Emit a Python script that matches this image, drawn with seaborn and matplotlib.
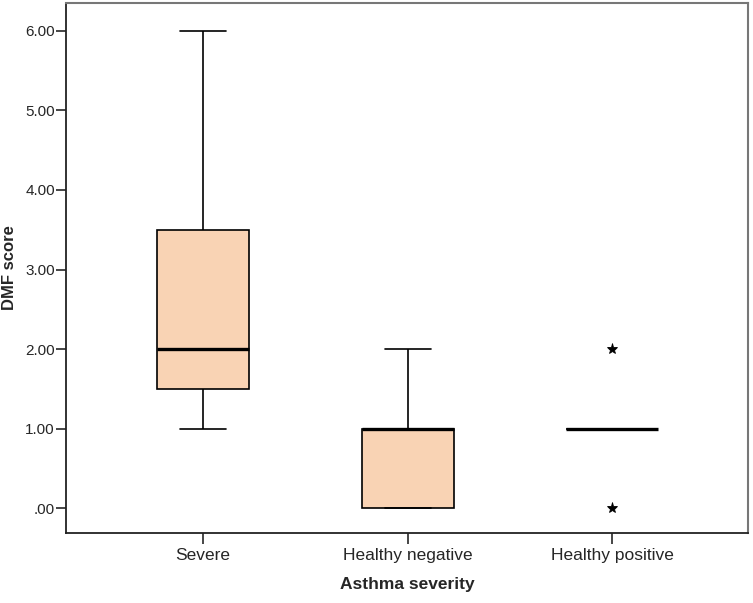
import pandas as pd
import matplotlib
matplotlib.use("Agg")
import matplotlib.pyplot as plt
from matplotlib.ticker import FuncFormatter
import seaborn as sns

# DMF scores per group
groups = ["Severe", "Healthy negative", "Healthy positive"]
severe = [1, 1, 2, 2, 3, 4, 6]
healthy_neg = [0, 0, 0, 1, 1, 1, 2]
healthy_pos = [0, 1, 1, 1, 1, 1, 2]

df = pd.DataFrame({
    "group": [groups[0]] * len(severe) + [groups[1]] * len(healthy_neg) + [groups[2]] * len(healthy_pos),
    "dmf": severe + healthy_neg + healthy_pos,
})

sns.set_style("white")
plt.rcParams["font.family"] = ["Liberation Sans", "DejaVu Sans"]

fig = plt.figure(figsize=(7.53, 6.03), dpi=100)
ax = fig.add_axes([0.0877, 0.1161, 0.9057, 0.879])

sns.boxplot(data=df, x="group", y="dmf", order=groups, ax=ax,
            color="#F9D3B4", saturation=1, width=0.45, linecolor="black",
            linewidth=1.2, whis=1.5,
            medianprops={"linewidth": 2.4, "color": "black"},
            flierprops={"marker": "*", "markersize": 8,
                        "markerfacecolor": "black", "markeredgecolor": "black",
                        "markeredgewidth": 0.6})

ax.set_xlim(-0.67, 2.665)
ax.set_ylim(-0.31, 6.35)
ax.set_yticks([0, 1, 2, 3, 4, 5, 6])
ax.yaxis.set_major_formatter(FuncFormatter(lambda v, p: "{:.2f}".format(v).lstrip("0")))

ax.set_xlabel("Asthma severity", fontsize=12.5, fontweight="bold", labelpad=10)
ax.set_ylabel("DMF score", fontsize=12, fontweight="bold", labelpad=6)

ax.tick_params(axis="y", direction="out", length=7, width=1.2, pad=1, labelsize=11, left=True)
ax.tick_params(axis="x", direction="out", length=8, width=1.2, pad=3, labelsize=12.5, bottom=True)

for side in ["left", "bottom"]:
    ax.spines[side].set_color("#222222")
    ax.spines[side].set_linewidth(1.3)
for side in ["top", "right"]:
    ax.spines[side].set_color("#777777")
    ax.spines[side].set_linewidth(1.5)

fig.savefig("out.png", dpi=100)
